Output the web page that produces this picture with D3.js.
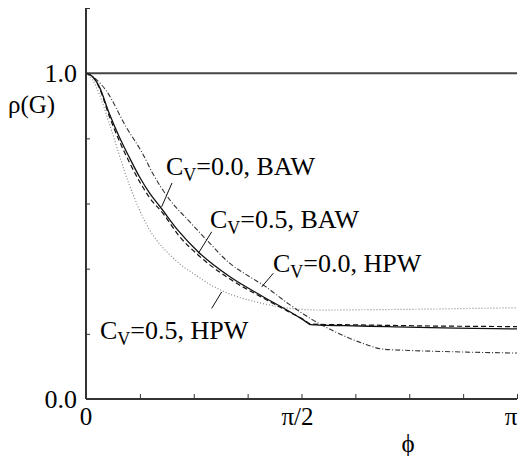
<!DOCTYPE html>
<html>
  <head>
    <meta charset="utf-8">
    <script src='https://d3js.org/d3.v7.min.js'></script>
    <style>
      body { margin: 0; background: #fff; }
    </style>
  </head>
  <body>
  <div id="chart"></div>
  <script>
    // phi is given in units of pi
    var phiSolid = [0, 0.015, 0.031, 0.054, 0.077, 0.100, 0.124, 0.148, 0.172, 0.215, 0.260, 0.334, 0.411, 0.470, 0.505, 0.522, 0.54, 0.60, 0.70, 0.80, 0.90, 1.0];
    var rhoSolid = [1.0, 0.99, 0.958, 0.876, 0.805, 0.743, 0.682, 0.631, 0.590, 0.515, 0.452, 0.375, 0.314, 0.270, 0.242, 0.228, 0.227, 0.225, 0.222, 0.219, 0.217, 0.215];

    var phiDashed = [0, 0.015, 0.031, 0.054, 0.077, 0.100, 0.124, 0.148, 0.179, 0.215, 0.260, 0.334, 0.411, 0.470, 0.505, 0.522, 0.54, 0.60, 0.70, 0.80, 0.90, 1.0];
    var rhoDashed = [1.0, 0.99, 0.955, 0.868, 0.793, 0.728, 0.668, 0.617, 0.569, 0.502, 0.442, 0.368, 0.310, 0.268, 0.244, 0.230, 0.229, 0.228, 0.226, 0.224, 0.223, 0.222];

    var phiDashDot = [0, 0.02, 0.046, 0.093, 0.131, 0.155, 0.195, 0.240, 0.280, 0.334, 0.380, 0.411, 0.470, 0.527, 0.58, 0.64, 0.689, 0.75, 0.85, 1.0];
    var rhoDashDot = [1.0, 0.985, 0.948, 0.835, 0.754, 0.692, 0.610, 0.545, 0.488, 0.416, 0.375, 0.350, 0.292, 0.242, 0.205, 0.172, 0.153, 0.149, 0.145, 0.141];

    var phiDotted = [0, 0.015, 0.031, 0.054, 0.077, 0.089, 0.110, 0.130, 0.148, 0.170, 0.195, 0.220, 0.249, 0.290, 0.334, 0.380, 0.440, 0.489, 0.55, 0.65, 0.80, 0.90, 1.0];
    var rhoDotted = [1.0, 0.98, 0.935, 0.846, 0.750, 0.700, 0.625, 0.563, 0.518, 0.477, 0.442, 0.412, 0.385, 0.350, 0.322, 0.303, 0.285, 0.276, 0.273, 0.274, 0.276, 0.278, 0.280];

    var xTicks = [0, 0.125, 0.25, 0.375, 0.5, 0.625, 0.75, 0.875, 1];
    var xTickLabels = {0: '0', 0.5: 'π/2', 1: 'π'};
    var yTicks = [0, 0.2, 0.4, 0.6, 0.8, 1.0, 1.2];
    var yTickLabels = {0: '0.0', 1: '1.0'};

    // label text, text anchor (phi, rho), leader from / to
    var labelCv = ['0.0', '0.5', '0.0', '0.5'];
    var labelKind = ['BAW', 'BAW', 'HPW', 'HPW'];
    var labelAt = [[0.1856, 0.688], [0.2877, 0.526], [0.4339, 0.390], [0.0325, 0.184]];
    var leaderFrom = [[0.1995, 0.663], [0.2916, 0.513], [0.4346, 0.386], [0.3149, 0.329]];
    var leaderTo = [[0.1756, 0.590], [0.2606, 0.447], [0.4077, 0.344], [0.2916, 0.278]];

    var width = 527, height = 456;
    var margin = {left: 86, right: 10, top: 8, bottom: 57};
    var serif = "'Liberation Serif', 'DejaVu Serif', serif";

    var svg = d3.select('#chart').append('svg')
      .attr('width', width)
      .attr('height', height)
      .attr('font-family', serif);

    var x = d3.scaleLinear().domain([0, 1]).range([margin.left, width - margin.right]);
    var y = d3.scaleLinear().domain([0, 1.2]).range([height - margin.bottom, margin.top]);

    var axisColor = '#333';

    // reference line at 1.0
    svg.append('line')
      .attr('x1', x(0)).attr('x2', x(1))
      .attr('y1', y(1)).attr('y2', y(1))
      .attr('stroke', '#444').attr('stroke-width', 2);

    var line = d3.line()
      .x(function(d) { return x(d[0]); })
      .y(function(d) { return y(d[1]); })
      .curve(d3.curveMonotoneX);

    function zip(a, b) { return a.map(function(v, i) { return [v, b[i]]; }); }

    var series = [
      {pts: zip(phiDotted, rhoDotted), color: '#888', dash: '1,2', w: 1.2},
      {pts: zip(phiDashDot, rhoDashDot), color: '#333', dash: '5,2,1,2', w: 1.1},
      {pts: zip(phiDashed, rhoDashed), color: '#111', dash: '5,3', w: 1.2},
      {pts: zip(phiSolid, rhoSolid), color: '#111', dash: null, w: 1.3}
    ];

    svg.selectAll('path.curve')
      .data(series)
      .enter()
      .append('path')
      .attr('class', 'curve')
      .attr('fill', 'none')
      .attr('stroke', function(d) { return d.color; })
      .attr('stroke-width', function(d) { return d.w; })
      .attr('stroke-dasharray', function(d) { return d.dash; })
      .attr('d', function(d) { return line(d.pts); });

    // axes
    var xAxis = d3.axisBottom(x).tickValues(xTicks).tickSize(-5).tickFormat('');
    var yAxis = d3.axisLeft(y).tickValues(yTicks).tickSize(-4).tickFormat('');

    var gx = svg.append('g').attr('transform', 'translate(0,' + y(0) + ')').call(xAxis);
    var gy = svg.append('g').attr('transform', 'translate(' + x(0) + ',0)').call(yAxis);
    [gx, gy].forEach(function(g) {
      g.select('.domain').attr('stroke', axisColor).attr('stroke-width', 2);
      g.selectAll('.tick line').attr('stroke', axisColor).attr('stroke-width', 1);
    });
    gy.select('.domain').attr('d', 'M0,' + y(0) + 'V' + y(1.2));
    gx.select('.domain').attr('d', 'M' + x(0) + ',0H' + x(1));

    svg.selectAll('text.xlab')
      .data(xTicks.filter(function(t) { return xTickLabels[t] !== undefined; }))
      .enter()
      .append('text')
      .attr('class', 'xlab')
      .attr('x', function(d) { return d === 1 ? x(d) - 6 : (d === 0.5 ? x(d) - 4 : x(d)); })
      .attr('y', y(0) + 26)
      .attr('text-anchor', 'middle')
      .attr('font-family', serif)
      .attr('font-size', 25)
      .text(function(d) { return xTickLabels[d]; });

    svg.selectAll('text.ylab')
      .data(yTicks.filter(function(t) { return yTickLabels[t] !== undefined; }))
      .enter()
      .append('text')
      .attr('class', 'ylab')
      .attr('x', x(0) - 9)
      .attr('y', function(d) { return y(d) + 9; })
      .attr('text-anchor', 'end')
      .attr('font-family', serif)
      .attr('font-size', 26)
      .text(function(d) { return yTickLabels[d]; });

    svg.append('text')
      .attr('x', 8).attr('y', 113)
      .attr('font-family', serif)
      .attr('font-size', 25)
      .text('ρ(G)');

    svg.append('text')
      .attr('x', 408).attr('y', 452)
      .attr('text-anchor', 'middle')
      .attr('font-family', serif)
      .attr('font-size', 25)
      .text('ϕ');

    // curve labels
    labelAt.forEach(function(p, i) {
      var t = svg.append('text')
        .attr('x', x(p[0])).attr('y', y(p[1]))
        .attr('font-family', serif)
        .attr('font-size', 26);
      t.append('tspan').text('C');
      t.append('tspan').attr('font-size', 18).attr('dy', 6).text('V');
      t.append('tspan').attr('dy', -6).text('=' + labelCv[i] + ', ' + labelKind[i]);

      svg.append('line')
        .attr('x1', x(leaderFrom[i][0])).attr('y1', y(leaderFrom[i][1]))
        .attr('x2', x(leaderTo[i][0])).attr('y2', y(leaderTo[i][1]))
        .attr('stroke', '#111').attr('stroke-width', 1);
    });
  </script>
  </body>
</html>
